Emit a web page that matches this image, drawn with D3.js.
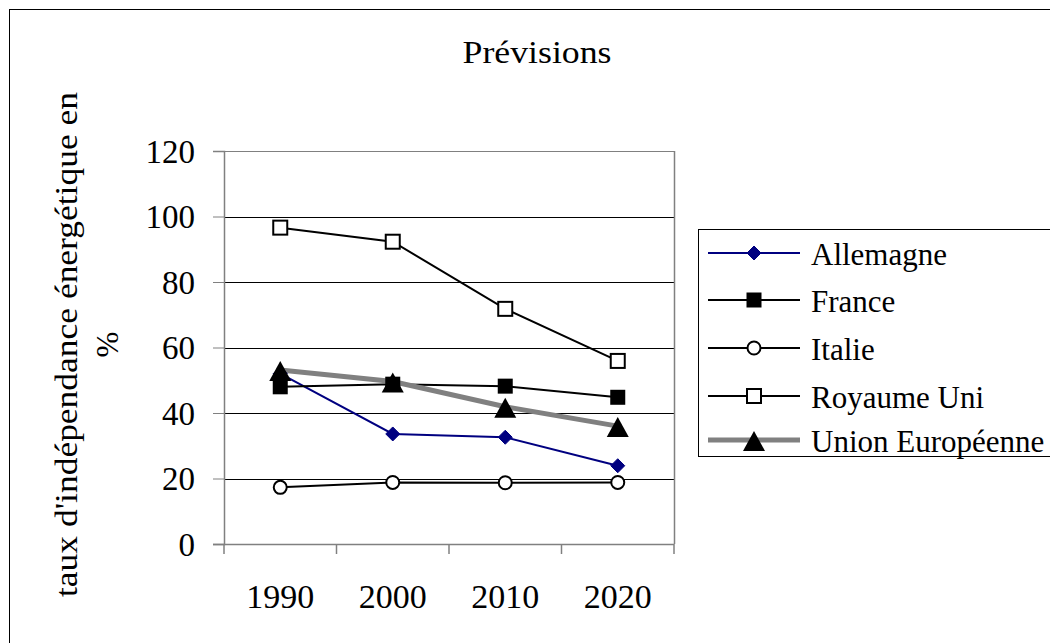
<!DOCTYPE html>
<html><head><meta charset="utf-8">
<script src="https://cdn.jsdelivr.net/npm/d3@7"></script>
<style>body{margin:0;background:#fff}svg{display:block}</style>
</head><body><svg id="c" width="1050" height="643" style="font-family:'Liberation Serif','Times New Roman',serif"></svg>
<script>
const years = ["1990","2000","2010","2020"];
const yTicks = [0,20,40,60,80,100,120];
const allemagne = [52, 33.6, 32.6, 23.9];
const france = [48.0, 48.8, 48.2, 44.8];
const italie = [17.3, 18.8, 18.7, 18.8];
const royaumeUni = [96.6, 92.3, 71.8, 55.9];
const unionEuropeenne = [53.1, 49.6, 41.9, 36.0];
const seriesNames = ["Allemagne","France","Italie","Royaume Uni","Union Européenne"];

const FONT = "'Liberation Serif','Times New Roman',serif";
const series = [
  {name:seriesNames[0], values:allemagne, color:"#000080", width:2, marker:"diamond"},
  {name:seriesNames[1], values:france, color:"#000", width:2, marker:"squareFilled"},
  {name:seriesNames[2], values:italie, color:"#000", width:2, marker:"circle"},
  {name:seriesNames[3], values:royaumeUni, color:"#000", width:2, marker:"squareOpen"},
  {name:seriesNames[4], values:unionEuropeenne, color:"#808080", width:5, marker:"triangle"}
];

const svg = d3.select("#c");
svg.append("rect").attr("x",9.5).attr("y",9.5).attr("width",1100).attr("height",700)
  .attr("fill","none").attr("stroke","#000").attr("stroke-width",1);

const L=224, R=674, T=151, B=544;
const x = d3.scaleBand().domain(years).range([L,R]);
const y = d3.scaleLinear().domain([0,120]).range([B,T]);

svg.append("g").selectAll("line").data(yTicks.filter(d=>d>0)).join("line")
  .attr("x1",L).attr("x2",R).attr("y1",d=>Math.round(y(d))+0.5).attr("y2",d=>Math.round(y(d))+0.5)
  .attr("stroke",d=>d===120?"#808080":"#000").attr("stroke-width",1);
svg.append("line").attr("x1",R+0.5).attr("x2",R+0.5).attr("y1",T).attr("y2",B).attr("stroke","#808080").attr("stroke-width",1.5);

const yAxis = d3.axisLeft(y).tickValues(yTicks).tickSize(11).tickPadding(18);
const gy = svg.append("g").attr("transform",`translate(${L},0)`).call(yAxis);
gy.attr("font-family",null).attr("font-size",null);
gy.select(".domain").attr("stroke","#808080").attr("stroke-width",1.5);
gy.selectAll(".tick line").attr("stroke","#808080");
gy.selectAll("text").style("font-family",FONT).style("font-size","33px").attr("fill","#000").attr("dy","0.34em");

const xAxis = d3.axisBottom(x).tickSize(0).tickPadding(0).tickSizeOuter(0);
const gx = svg.append("g").attr("transform",`translate(0,${B})`).call(xAxis);
gx.attr("font-family",null).attr("font-size",null);
gx.select(".domain").attr("stroke","#808080").attr("stroke-width",1.5).attr("d",`M${L-11},0.5H${R}`);
gx.selectAll(".tick text").style("font-family",FONT).style("font-size","34px").attr("fill","#000").attr("dy",0).attr("y",64);
const edges = years.map(d=>x(d)).concat([R]);
gx.append("g").selectAll("line").data(edges).join("line")
  .attr("x1",d=>d).attr("x2",d=>d).attr("y1",0).attr("y2",10).attr("stroke","#808080").attr("stroke-width",1.5);

svg.append("text").attr("x",537).attr("y",63).attr("text-anchor","middle")
  .attr("textLength",149).attr("lengthAdjust","spacingAndGlyphs")
  .style("font-family",FONT).style("font-size","31px").text("Prévisions");

const yt = svg.append("g").attr("transform","translate(0,344.5) rotate(-90)");
yt.append("text").attr("x",0).attr("y",77).attr("text-anchor","middle")
  .attr("textLength",505).attr("lengthAdjust","spacingAndGlyphs")
  .style("font-family",FONT).style("font-size","31px").text("taux d'indépendance énergétique en");
yt.append("text").attr("x",0).attr("y",118).attr("text-anchor","middle")
  .style("font-family",FONT).style("font-size","31px").text("%");

function drawMarker(g, type, cx, cy){
  if(type==="diamond"){
    g.append("path").attr("d",`M${cx},${cy-7}L${cx+7},${cy}L${cx},${cy+7}L${cx-7},${cy}Z`).attr("fill","#000080").attr("stroke","#000080");
  } else if(type==="squareFilled"){
    g.append("rect").attr("x",cx-7.5).attr("y",cy-7.5).attr("width",15).attr("height",15).attr("fill","#000");
  } else if(type==="squareOpen"){
    g.append("rect").attr("x",cx-7).attr("y",cy-7).attr("width",14).attr("height",14).attr("fill","#fff").attr("stroke","#000").attr("stroke-width",2);
  } else if(type==="circle"){
    g.append("circle").attr("cx",cx).attr("cy",cy).attr("r",6.5).attr("fill","#fff").attr("stroke","#000").attr("stroke-width",2);
  } else if(type==="triangle"){
    g.append("path").attr("d",`M${cx},${cy-9}L${cx+11},${cy+11}L${cx-11},${cy+11}Z`).attr("fill","#000");
  }
}

const line = d3.line().x((d,i)=>x(years[i])+x.bandwidth()/2).y(d=>y(d));
const plot = svg.append("g");
series.forEach(s=>{
  plot.append("path").attr("d",line(s.values)).attr("fill","none").attr("stroke",s.color).attr("stroke-width",s.width);
});
series.forEach(s=>{
  s.values.forEach((v,i)=>drawMarker(plot,s.marker,x(years[i])+x.bandwidth()/2,y(v)));
});

svg.append("rect").attr("x",698.5).attr("y",229.5).attr("width",400).attr("height",227)
  .attr("fill","#fff").attr("stroke","#000").attr("stroke-width",1);
const ly = [253,300,348,396,440];
series.forEach((s,i)=>{
  const g = svg.append("g");
  g.append("line").attr("x1",708).attr("x2",800).attr("y1",ly[i]).attr("y2",ly[i]).attr("stroke",s.color).attr("stroke-width",s.width);
  drawMarker(g,s.marker,754,ly[i]);
  g.append("text").attr("x",811).attr("y",ly[i]+12).style("font-family",FONT).style("font-size","31px").text(s.name);
});
</script></body></html>
